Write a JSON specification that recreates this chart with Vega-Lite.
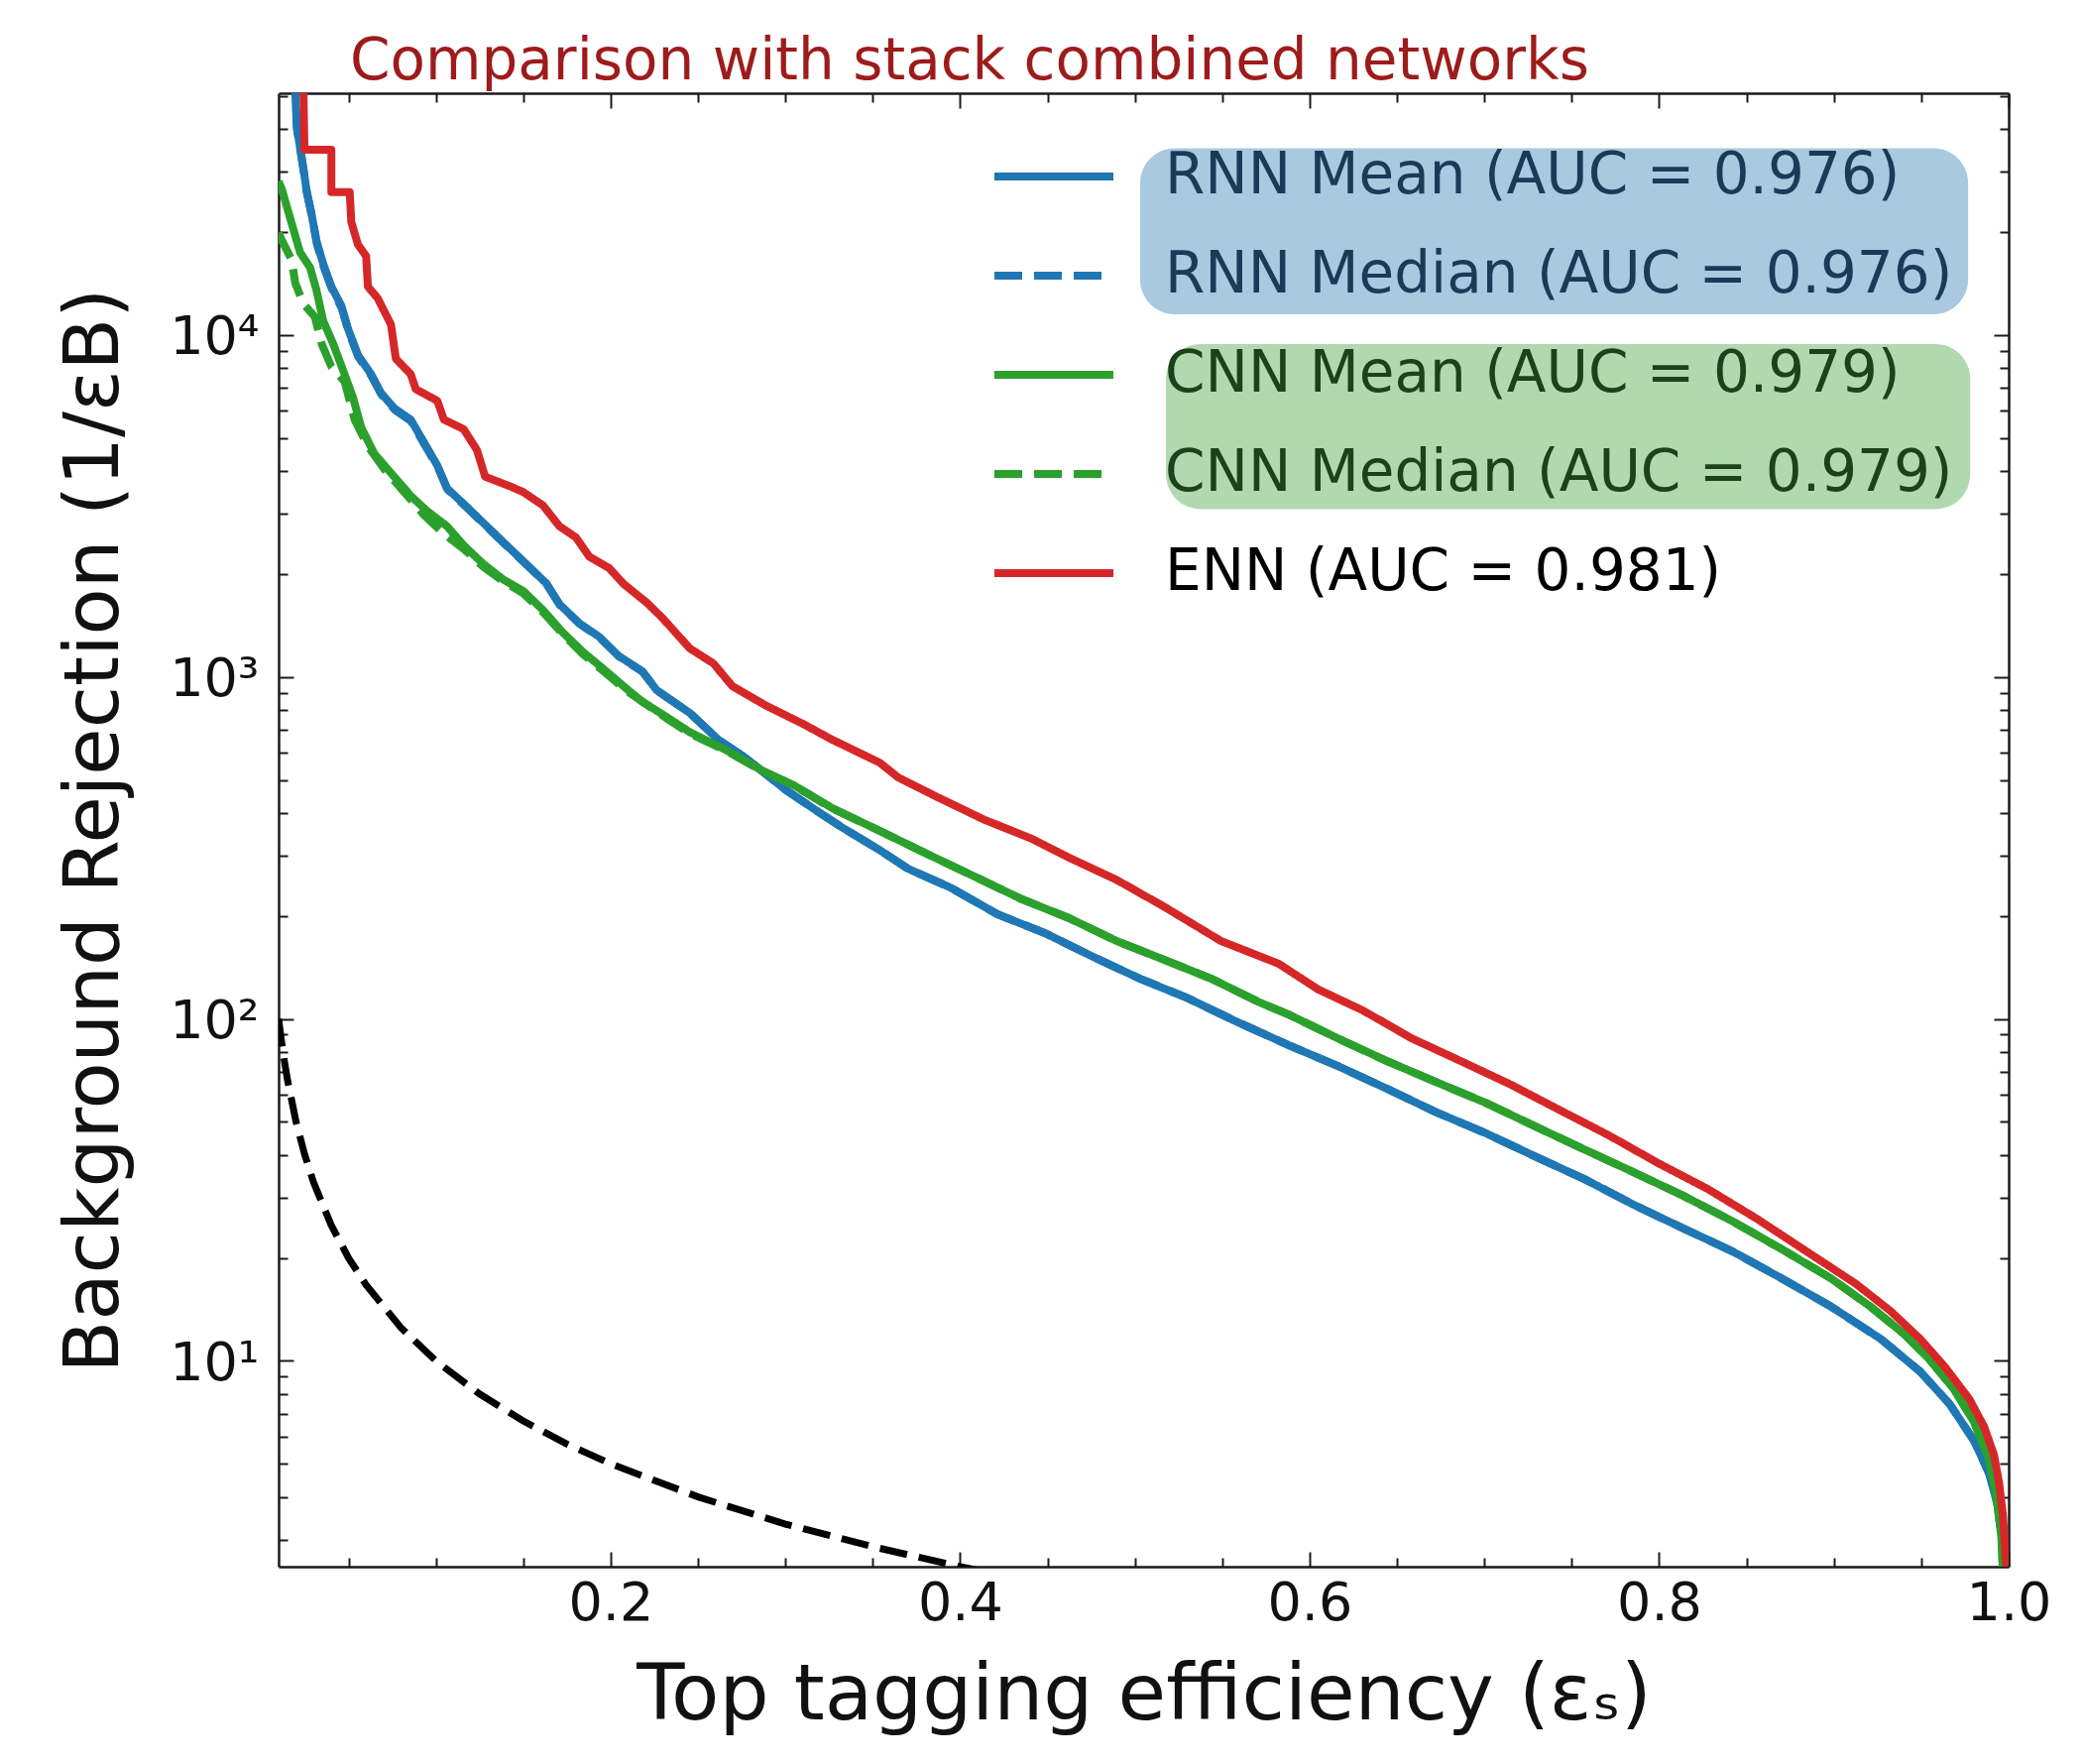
{
  "$schema": "https://vega.github.io/schema/vega-lite/v6.json",
  "width": 1745,
  "height": 1486,
  "autosize": {"type": "none"},
  "padding": {"left": 281, "top": 94, "right": 75, "bottom": 199},
  "background": "white",
  "config": {
    "font": "DejaVu Sans",
    "view": {"stroke": null},
    "axis": {
      "grid": false,
      "domainColor": "#1a1a1a",
      "domainWidth": 2.5,
      "tickColor": "#1a1a1a",
      "tickWidth": 2,
      "labelFont": "DejaVu Sans",
      "labelFontSize": 54,
      "labelColor": "#111111",
      "titleFont": "DejaVu Sans",
      "titleFontSize": 77,
      "titleFontWeight": "normal",
      "titleColor": "#111111",
      "labelFlush": false,
      "labelOverlap": false
    }
  },
  "title": {
    "text": "Comparison with stack combined networks",
    "anchor": "start",
    "frame": "group",
    "dx": 72,
    "offset": -65,
    "baseline": "alphabetic",
    "font": "DejaVu Sans",
    "fontSize": 58,
    "fontWeight": "normal",
    "color": "#9e1b1b"
  },
  "datasets": {
    "highlights": [
      {"group": "RNN", "x": 0.503, "x2": 0.9768, "y": 35200, "y2": 11510},
      {"group": "CNN", "x": 0.5178, "x2": 0.978, "y": 9416, "y2": 3098}
    ],
    "random": [
      {"eff": 0.01, "rej": 100}, {"eff": 0.0125, "rej": 80}, {"eff": 0.015, "rej": 66.7},
      {"eff": 0.02, "rej": 50}, {"eff": 0.025, "rej": 40}, {"eff": 0.03, "rej": 33.3},
      {"eff": 0.04, "rej": 25}, {"eff": 0.05, "rej": 20}, {"eff": 0.06, "rej": 16.7},
      {"eff": 0.08, "rej": 12.5}, {"eff": 0.1, "rej": 10}, {"eff": 0.125, "rej": 8},
      {"eff": 0.15, "rej": 6.67}, {"eff": 0.175, "rej": 5.71}, {"eff": 0.2, "rej": 5},
      {"eff": 0.25, "rej": 4}, {"eff": 0.3, "rej": 3.33}, {"eff": 0.35, "rej": 2.86},
      {"eff": 0.4, "rej": 2.5}, {"eff": 0.45, "rej": 2.22}
    ],
    "roc": [
      {"series": "RNN Mean (AUC = 0.976)", "eff": 0.019, "rej": 60000},
      {"series": "RNN Mean (AUC = 0.976)", "eff": 0.0204, "rej": 40644},
      {"series": "RNN Mean (AUC = 0.976)", "eff": 0.0242, "rej": 30690},
      {"series": "RNN Mean (AUC = 0.976)", "eff": 0.0261, "rej": 26303},
      {"series": "RNN Mean (AUC = 0.976)", "eff": 0.0289, "rej": 22542},
      {"series": "RNN Mean (AUC = 0.976)", "eff": 0.0317, "rej": 18836},
      {"series": "RNN Mean (AUC = 0.976)", "eff": 0.0355, "rej": 16181},
      {"series": "RNN Mean (AUC = 0.976)", "eff": 0.0402, "rej": 13868},
      {"series": "RNN Mean (AUC = 0.976)", "eff": 0.0459, "rej": 12190},
      {"series": "RNN Mean (AUC = 0.976)", "eff": 0.0497, "rej": 10447},
      {"series": "RNN Mean (AUC = 0.976)", "eff": 0.0554, "rej": 8750},
      {"series": "RNN Mean (AUC = 0.976)", "eff": 0.0629, "rej": 7691},
      {"series": "RNN Mean (AUC = 0.976)", "eff": 0.0686, "rej": 6776},
      {"series": "RNN Mean (AUC = 0.976)", "eff": 0.0762, "rej": 6109},
      {"series": "RNN Mean (AUC = 0.976)", "eff": 0.0856, "rej": 5662},
      {"series": "RNN Mean (AUC = 0.976)", "eff": 0.0932, "rej": 4853},
      {"series": "RNN Mean (AUC = 0.976)", "eff": 0.1008, "rej": 4159},
      {"series": "RNN Mean (AUC = 0.976)", "eff": 0.1064, "rej": 3565},
      {"series": "RNN Mean (AUC = 0.976)", "eff": 0.1178, "rej": 3141},
      {"series": "RNN Mean (AUC = 0.976)", "eff": 0.1291, "rej": 2761},
      {"series": "RNN Mean (AUC = 0.976)", "eff": 0.1405, "rej": 2427},
      {"series": "RNN Mean (AUC = 0.976)", "eff": 0.1518, "rej": 2138},
      {"series": "RNN Mean (AUC = 0.976)", "eff": 0.1632, "rej": 1879},
      {"series": "RNN Mean (AUC = 0.976)", "eff": 0.1707, "rej": 1633},
      {"series": "RNN Mean (AUC = 0.976)", "eff": 0.1821, "rej": 1436},
      {"series": "RNN Mean (AUC = 0.976)", "eff": 0.1934, "rej": 1312},
      {"series": "RNN Mean (AUC = 0.976)", "eff": 0.2045, "rej": 1153},
      {"series": "RNN Mean (AUC = 0.976)", "eff": 0.2181, "rej": 1040},
      {"series": "RNN Mean (AUC = 0.976)", "eff": 0.2263, "rej": 916},
      {"series": "RNN Mean (AUC = 0.976)", "eff": 0.2453, "rej": 785},
      {"series": "RNN Mean (AUC = 0.976)", "eff": 0.2616, "rej": 656},
      {"series": "RNN Mean (AUC = 0.976)", "eff": 0.2778, "rej": 577},
      {"series": "RNN Mean (AUC = 0.976)", "eff": 0.2996, "rej": 470},
      {"series": "RNN Mean (AUC = 0.976)", "eff": 0.3186, "rej": 404},
      {"series": "RNN Mean (AUC = 0.976)", "eff": 0.3321, "rej": 364},
      {"series": "RNN Mean (AUC = 0.976)", "eff": 0.3539, "rej": 312},
      {"series": "RNN Mean (AUC = 0.976)", "eff": 0.3702, "rej": 275},
      {"series": "RNN Mean (AUC = 0.976)", "eff": 0.3946, "rej": 242},
      {"series": "RNN Mean (AUC = 0.976)", "eff": 0.4217, "rej": 202},
      {"series": "RNN Mean (AUC = 0.976)", "eff": 0.4488, "rej": 178},
      {"series": "RNN Mean (AUC = 0.976)", "eff": 0.476, "rej": 152},
      {"series": "RNN Mean (AUC = 0.976)", "eff": 0.5031, "rej": 131},
      {"series": "RNN Mean (AUC = 0.976)", "eff": 0.5303, "rej": 115},
      {"series": "RNN Mean (AUC = 0.976)", "eff": 0.5574, "rej": 98.6},
      {"series": "RNN Mean (AUC = 0.976)", "eff": 0.588, "rej": 83.8},
      {"series": "RNN Mean (AUC = 0.976)", "eff": 0.6162, "rej": 72.8},
      {"series": "RNN Mean (AUC = 0.976)", "eff": 0.6445, "rej": 62.4},
      {"series": "RNN Mean (AUC = 0.976)", "eff": 0.6726, "rej": 53.3},
      {"series": "RNN Mean (AUC = 0.976)", "eff": 0.7009, "rej": 46.3},
      {"series": "RNN Mean (AUC = 0.976)", "eff": 0.7291, "rej": 39.6},
      {"series": "RNN Mean (AUC = 0.976)", "eff": 0.7573, "rej": 34.0},
      {"series": "RNN Mean (AUC = 0.976)", "eff": 0.7855, "rej": 28.6},
      {"series": "RNN Mean (AUC = 0.976)", "eff": 0.8138, "rej": 24.4},
      {"series": "RNN Mean (AUC = 0.976)", "eff": 0.842, "rej": 20.9},
      {"series": "RNN Mean (AUC = 0.976)", "eff": 0.8703, "rej": 17.4},
      {"series": "RNN Mean (AUC = 0.976)", "eff": 0.8985, "rej": 14.4},
      {"series": "RNN Mean (AUC = 0.976)", "eff": 0.9267, "rej": 11.6},
      {"series": "RNN Mean (AUC = 0.976)", "eff": 0.9493, "rej": 9.31},
      {"series": "RNN Mean (AUC = 0.976)", "eff": 0.9662, "rej": 7.48},
      {"series": "RNN Mean (AUC = 0.976)", "eff": 0.9803, "rej": 5.83},
      {"series": "RNN Mean (AUC = 0.976)", "eff": 0.9888, "rej": 4.69},
      {"series": "RNN Mean (AUC = 0.976)", "eff": 0.9945, "rej": 3.66},
      {"series": "RNN Mean (AUC = 0.976)", "eff": 0.9973, "rej": 2.84},
      {"series": "RNN Mean (AUC = 0.976)", "eff": 1.0, "rej": 1},

      {"series": "RNN Median (AUC = 0.976)", "eff": 0.0192, "rej": 60000},
      {"series": "RNN Median (AUC = 0.976)", "eff": 0.0206, "rej": 39800},
      {"series": "RNN Median (AUC = 0.976)", "eff": 0.0244, "rej": 30100},
      {"series": "RNN Median (AUC = 0.976)", "eff": 0.0263, "rej": 25900},
      {"series": "RNN Median (AUC = 0.976)", "eff": 0.0291, "rej": 22300},
      {"series": "RNN Median (AUC = 0.976)", "eff": 0.0319, "rej": 18500},
      {"series": "RNN Median (AUC = 0.976)", "eff": 0.0357, "rej": 15900},
      {"series": "RNN Median (AUC = 0.976)", "eff": 0.0404, "rej": 13700},
      {"series": "RNN Median (AUC = 0.976)", "eff": 0.0461, "rej": 12000},
      {"series": "RNN Median (AUC = 0.976)", "eff": 0.0499, "rej": 10300},
      {"series": "RNN Median (AUC = 0.976)", "eff": 0.0556, "rej": 8650},
      {"series": "RNN Median (AUC = 0.976)", "eff": 0.0631, "rej": 7600},
      {"series": "RNN Median (AUC = 0.976)", "eff": 0.0688, "rej": 6700},
      {"series": "RNN Median (AUC = 0.976)", "eff": 0.0764, "rej": 6050},
      {"series": "RNN Median (AUC = 0.976)", "eff": 0.0858, "rej": 5600},
      {"series": "RNN Median (AUC = 0.976)", "eff": 0.0934, "rej": 4800},
      {"series": "RNN Median (AUC = 0.976)", "eff": 0.101, "rej": 4120},
      {"series": "RNN Median (AUC = 0.976)", "eff": 0.1066, "rej": 3540},
      {"series": "RNN Median (AUC = 0.976)", "eff": 0.118, "rej": 3120},
      {"series": "RNN Median (AUC = 0.976)", "eff": 0.1293, "rej": 2745},
      {"series": "RNN Median (AUC = 0.976)", "eff": 0.1407, "rej": 2415},
      {"series": "RNN Median (AUC = 0.976)", "eff": 0.152, "rej": 2128},
      {"series": "RNN Median (AUC = 0.976)", "eff": 0.1634, "rej": 1870},
      {"series": "RNN Median (AUC = 0.976)", "eff": 0.1709, "rej": 1625},
      {"series": "RNN Median (AUC = 0.976)", "eff": 0.1823, "rej": 1430},
      {"series": "RNN Median (AUC = 0.976)", "eff": 0.1936, "rej": 1306},
      {"series": "RNN Median (AUC = 0.976)", "eff": 0.2047, "rej": 1149},
      {"series": "RNN Median (AUC = 0.976)", "eff": 0.2183, "rej": 1036},
      {"series": "RNN Median (AUC = 0.976)", "eff": 0.2265, "rej": 913},
      {"series": "RNN Median (AUC = 0.976)", "eff": 0.2455, "rej": 783},
      {"series": "RNN Median (AUC = 0.976)", "eff": 0.2618, "rej": 655},
      {"series": "RNN Median (AUC = 0.976)", "eff": 0.2778, "rej": 577},
      {"series": "RNN Median (AUC = 0.976)", "eff": 0.2996, "rej": 470},
      {"series": "RNN Median (AUC = 0.976)", "eff": 0.3186, "rej": 404},
      {"series": "RNN Median (AUC = 0.976)", "eff": 0.3321, "rej": 364},
      {"series": "RNN Median (AUC = 0.976)", "eff": 0.3539, "rej": 312},
      {"series": "RNN Median (AUC = 0.976)", "eff": 0.3702, "rej": 275},
      {"series": "RNN Median (AUC = 0.976)", "eff": 0.3946, "rej": 242},
      {"series": "RNN Median (AUC = 0.976)", "eff": 0.4217, "rej": 202},
      {"series": "RNN Median (AUC = 0.976)", "eff": 0.4488, "rej": 178},
      {"series": "RNN Median (AUC = 0.976)", "eff": 0.476, "rej": 152},
      {"series": "RNN Median (AUC = 0.976)", "eff": 0.5031, "rej": 131},
      {"series": "RNN Median (AUC = 0.976)", "eff": 0.5303, "rej": 115},
      {"series": "RNN Median (AUC = 0.976)", "eff": 0.5574, "rej": 98.6},
      {"series": "RNN Median (AUC = 0.976)", "eff": 0.588, "rej": 83.8},
      {"series": "RNN Median (AUC = 0.976)", "eff": 0.6162, "rej": 72.8},
      {"series": "RNN Median (AUC = 0.976)", "eff": 0.6445, "rej": 62.4},
      {"series": "RNN Median (AUC = 0.976)", "eff": 0.6726, "rej": 53.3},
      {"series": "RNN Median (AUC = 0.976)", "eff": 0.7009, "rej": 46.3},
      {"series": "RNN Median (AUC = 0.976)", "eff": 0.7291, "rej": 39.6},
      {"series": "RNN Median (AUC = 0.976)", "eff": 0.7573, "rej": 34.0},
      {"series": "RNN Median (AUC = 0.976)", "eff": 0.7855, "rej": 28.6},
      {"series": "RNN Median (AUC = 0.976)", "eff": 0.8138, "rej": 24.4},
      {"series": "RNN Median (AUC = 0.976)", "eff": 0.842, "rej": 20.9},
      {"series": "RNN Median (AUC = 0.976)", "eff": 0.8703, "rej": 17.4},
      {"series": "RNN Median (AUC = 0.976)", "eff": 0.8985, "rej": 14.4},
      {"series": "RNN Median (AUC = 0.976)", "eff": 0.9267, "rej": 11.6},
      {"series": "RNN Median (AUC = 0.976)", "eff": 0.9493, "rej": 9.31},
      {"series": "RNN Median (AUC = 0.976)", "eff": 0.9662, "rej": 7.48},
      {"series": "RNN Median (AUC = 0.976)", "eff": 0.9803, "rej": 5.83},
      {"series": "RNN Median (AUC = 0.976)", "eff": 0.9888, "rej": 4.69},
      {"series": "RNN Median (AUC = 0.976)", "eff": 0.9945, "rej": 3.66},
      {"series": "RNN Median (AUC = 0.976)", "eff": 0.9973, "rej": 2.84},
      {"series": "RNN Median (AUC = 0.976)", "eff": 1.0, "rej": 1},

      {"series": "CNN Mean (AUC = 0.979)", "eff": 0.01, "rej": 28184},
      {"series": "CNN Mean (AUC = 0.979)", "eff": 0.0119, "rej": 26669},
      {"series": "CNN Mean (AUC = 0.979)", "eff": 0.0147, "rej": 23768},
      {"series": "CNN Mean (AUC = 0.979)", "eff": 0.0185, "rej": 20370},
      {"series": "CNN Mean (AUC = 0.979)", "eff": 0.0223, "rej": 17458},
      {"series": "CNN Mean (AUC = 0.979)", "eff": 0.028, "rej": 15776},
      {"series": "CNN Mean (AUC = 0.979)", "eff": 0.0317, "rej": 13521},
      {"series": "CNN Mean (AUC = 0.979)", "eff": 0.0355, "rej": 11015},
      {"series": "CNN Mean (AUC = 0.979)", "eff": 0.0412, "rej": 9441},
      {"series": "CNN Mean (AUC = 0.979)", "eff": 0.0469, "rej": 7889},
      {"series": "CNN Mean (AUC = 0.979)", "eff": 0.0525, "rej": 6592},
      {"series": "CNN Mean (AUC = 0.979)", "eff": 0.0573, "rej": 5370},
      {"series": "CNN Mean (AUC = 0.979)", "eff": 0.0649, "rej": 4487},
      {"series": "CNN Mean (AUC = 0.979)", "eff": 0.0743, "rej": 3954},
      {"series": "CNN Mean (AUC = 0.979)", "eff": 0.0856, "rej": 3388},
      {"series": "CNN Mean (AUC = 0.979)", "eff": 0.0951, "rej": 3055},
      {"series": "CNN Mean (AUC = 0.979)", "eff": 0.1064, "rej": 2761},
      {"series": "CNN Mean (AUC = 0.979)", "eff": 0.1159, "rej": 2427},
      {"series": "CNN Mean (AUC = 0.979)", "eff": 0.1273, "rej": 2138},
      {"series": "CNN Mean (AUC = 0.979)", "eff": 0.1386, "rej": 1928},
      {"series": "CNN Mean (AUC = 0.979)", "eff": 0.15, "rej": 1786},
      {"series": "CNN Mean (AUC = 0.979)", "eff": 0.1613, "rej": 1570},
      {"series": "CNN Mean (AUC = 0.979)", "eff": 0.1727, "rej": 1349},
      {"series": "CNN Mean (AUC = 0.979)", "eff": 0.184, "rej": 1186},
      {"series": "CNN Mean (AUC = 0.979)", "eff": 0.1972, "rej": 1042},
      {"series": "CNN Mean (AUC = 0.979)", "eff": 0.2086, "rej": 929},
      {"series": "CNN Mean (AUC = 0.979)", "eff": 0.2181, "rej": 847},
      {"series": "CNN Mean (AUC = 0.979)", "eff": 0.2317, "rej": 766},
      {"series": "CNN Mean (AUC = 0.979)", "eff": 0.2453, "rej": 690},
      {"series": "CNN Mean (AUC = 0.979)", "eff": 0.267, "rej": 608},
      {"series": "CNN Mean (AUC = 0.979)", "eff": 0.286, "rej": 535},
      {"series": "CNN Mean (AUC = 0.979)", "eff": 0.305, "rej": 482},
      {"series": "CNN Mean (AUC = 0.979)", "eff": 0.3267, "rej": 414},
      {"series": "CNN Mean (AUC = 0.979)", "eff": 0.3539, "rej": 355},
      {"series": "CNN Mean (AUC = 0.979)", "eff": 0.381, "rej": 304},
      {"series": "CNN Mean (AUC = 0.979)", "eff": 0.4082, "rej": 261},
      {"series": "CNN Mean (AUC = 0.979)", "eff": 0.4353, "rej": 224},
      {"series": "CNN Mean (AUC = 0.979)", "eff": 0.4625, "rej": 197},
      {"series": "CNN Mean (AUC = 0.979)", "eff": 0.4896, "rej": 169},
      {"series": "CNN Mean (AUC = 0.979)", "eff": 0.5167, "rej": 149},
      {"series": "CNN Mean (AUC = 0.979)", "eff": 0.5439, "rej": 131},
      {"series": "CNN Mean (AUC = 0.979)", "eff": 0.571, "rej": 112},
      {"series": "CNN Mean (AUC = 0.979)", "eff": 0.588, "rej": 103},
      {"series": "CNN Mean (AUC = 0.979)", "eff": 0.6162, "rej": 87.7},
      {"series": "CNN Mean (AUC = 0.979)", "eff": 0.6445, "rej": 75.2},
      {"series": "CNN Mean (AUC = 0.979)", "eff": 0.6726, "rej": 65.3},
      {"series": "CNN Mean (AUC = 0.979)", "eff": 0.7009, "rej": 56.8},
      {"series": "CNN Mean (AUC = 0.979)", "eff": 0.7291, "rej": 48.5},
      {"series": "CNN Mean (AUC = 0.979)", "eff": 0.7573, "rej": 41.5},
      {"series": "CNN Mean (AUC = 0.979)", "eff": 0.7855, "rej": 35.6},
      {"series": "CNN Mean (AUC = 0.979)", "eff": 0.8138, "rej": 30.4},
      {"series": "CNN Mean (AUC = 0.979)", "eff": 0.842, "rej": 25.6},
      {"series": "CNN Mean (AUC = 0.979)", "eff": 0.8703, "rej": 21.2},
      {"series": "CNN Mean (AUC = 0.979)", "eff": 0.8985, "rej": 17.4},
      {"series": "CNN Mean (AUC = 0.979)", "eff": 0.921, "rej": 14.4},
      {"series": "CNN Mean (AUC = 0.979)", "eff": 0.9408, "rej": 11.9},
      {"series": "CNN Mean (AUC = 0.979)", "eff": 0.9549, "rej": 10.07},
      {"series": "CNN Mean (AUC = 0.979)", "eff": 0.969, "rej": 8.22},
      {"series": "CNN Mean (AUC = 0.979)", "eff": 0.9803, "rej": 6.61},
      {"series": "CNN Mean (AUC = 0.979)", "eff": 0.9888, "rej": 5.15},
      {"series": "CNN Mean (AUC = 0.979)", "eff": 0.993, "rej": 4.02},
      {"series": "CNN Mean (AUC = 0.979)", "eff": 0.9959, "rej": 3.03},
      {"series": "CNN Mean (AUC = 0.979)", "eff": 1.0, "rej": 1},

      {"series": "CNN Median (AUC = 0.979)", "eff": 0.01, "rej": 19953},
      {"series": "CNN Median (AUC = 0.979)", "eff": 0.0115, "rej": 19099},
      {"series": "CNN Median (AUC = 0.979)", "eff": 0.0175, "rej": 16596},
      {"series": "CNN Median (AUC = 0.979)", "eff": 0.0195, "rej": 14223},
      {"series": "CNN Median (AUC = 0.979)", "eff": 0.0242, "rej": 12359},
      {"series": "CNN Median (AUC = 0.979)", "eff": 0.0308, "rej": 11298},
      {"series": "CNN Median (AUC = 0.979)", "eff": 0.0346, "rej": 9441},
      {"series": "CNN Median (AUC = 0.979)", "eff": 0.0402, "rej": 8091},
      {"series": "CNN Median (AUC = 0.979)", "eff": 0.0478, "rej": 7311},
      {"series": "CNN Median (AUC = 0.979)", "eff": 0.0535, "rej": 5662},
      {"series": "CNN Median (AUC = 0.979)", "eff": 0.0611, "rej": 4732},
      {"series": "CNN Median (AUC = 0.979)", "eff": 0.0705, "rej": 4055},
      {"series": "CNN Median (AUC = 0.979)", "eff": 0.0819, "rej": 3475},
      {"series": "CNN Median (AUC = 0.979)", "eff": 0.0932, "rej": 2979},
      {"series": "CNN Median (AUC = 0.979)", "eff": 0.1046, "rej": 2624},
      {"series": "CNN Median (AUC = 0.979)", "eff": 0.1159, "rej": 2371},
      {"series": "CNN Median (AUC = 0.979)", "eff": 0.1273, "rej": 2099},
      {"series": "CNN Median (AUC = 0.979)", "eff": 0.1386, "rej": 1905},
      {"series": "CNN Median (AUC = 0.979)", "eff": 0.15, "rej": 1758},
      {"series": "CNN Median (AUC = 0.979)", "eff": 0.1613, "rej": 1549},
      {"series": "CNN Median (AUC = 0.979)", "eff": 0.1727, "rej": 1334},
      {"series": "CNN Median (AUC = 0.979)", "eff": 0.184, "rej": 1169},
      {"series": "CNN Median (AUC = 0.979)", "eff": 0.1972, "rej": 1028},
      {"series": "CNN Median (AUC = 0.979)", "eff": 0.2086, "rej": 916},
      {"series": "CNN Median (AUC = 0.979)", "eff": 0.2317, "rej": 759},
      {"series": "CNN Median (AUC = 0.979)", "eff": 0.2453, "rej": 684},
      {"series": "CNN Median (AUC = 0.979)", "eff": 0.267, "rej": 605},
      {"series": "CNN Median (AUC = 0.979)", "eff": 0.286, "rej": 533},
      {"series": "CNN Median (AUC = 0.979)", "eff": 0.305, "rej": 481},
      {"series": "CNN Median (AUC = 0.979)", "eff": 0.3267, "rej": 413},
      {"series": "CNN Median (AUC = 0.979)", "eff": 0.3539, "rej": 355},
      {"series": "CNN Median (AUC = 0.979)", "eff": 0.381, "rej": 304},
      {"series": "CNN Median (AUC = 0.979)", "eff": 0.4082, "rej": 261},
      {"series": "CNN Median (AUC = 0.979)", "eff": 0.4353, "rej": 224},
      {"series": "CNN Median (AUC = 0.979)", "eff": 0.4625, "rej": 197},
      {"series": "CNN Median (AUC = 0.979)", "eff": 0.4896, "rej": 169},
      {"series": "CNN Median (AUC = 0.979)", "eff": 0.5167, "rej": 149},
      {"series": "CNN Median (AUC = 0.979)", "eff": 0.5439, "rej": 131},
      {"series": "CNN Median (AUC = 0.979)", "eff": 0.571, "rej": 112},
      {"series": "CNN Median (AUC = 0.979)", "eff": 0.588, "rej": 103},
      {"series": "CNN Median (AUC = 0.979)", "eff": 0.6162, "rej": 87.7},
      {"series": "CNN Median (AUC = 0.979)", "eff": 0.6445, "rej": 75.2},
      {"series": "CNN Median (AUC = 0.979)", "eff": 0.6726, "rej": 65.3},
      {"series": "CNN Median (AUC = 0.979)", "eff": 0.7009, "rej": 56.8},
      {"series": "CNN Median (AUC = 0.979)", "eff": 0.7291, "rej": 48.5},
      {"series": "CNN Median (AUC = 0.979)", "eff": 0.7573, "rej": 41.5},
      {"series": "CNN Median (AUC = 0.979)", "eff": 0.7855, "rej": 35.6},
      {"series": "CNN Median (AUC = 0.979)", "eff": 0.8138, "rej": 30.4},
      {"series": "CNN Median (AUC = 0.979)", "eff": 0.842, "rej": 25.6},
      {"series": "CNN Median (AUC = 0.979)", "eff": 0.8703, "rej": 21.2},
      {"series": "CNN Median (AUC = 0.979)", "eff": 0.8985, "rej": 17.4},
      {"series": "CNN Median (AUC = 0.979)", "eff": 0.921, "rej": 14.4},
      {"series": "CNN Median (AUC = 0.979)", "eff": 0.9408, "rej": 11.9},
      {"series": "CNN Median (AUC = 0.979)", "eff": 0.9549, "rej": 10.07},
      {"series": "CNN Median (AUC = 0.979)", "eff": 0.969, "rej": 8.22},
      {"series": "CNN Median (AUC = 0.979)", "eff": 0.9803, "rej": 6.61},
      {"series": "CNN Median (AUC = 0.979)", "eff": 0.9888, "rej": 5.15},
      {"series": "CNN Median (AUC = 0.979)", "eff": 0.993, "rej": 4.02},
      {"series": "CNN Median (AUC = 0.979)", "eff": 0.9959, "rej": 3.03},
      {"series": "CNN Median (AUC = 0.979)", "eff": 1.0, "rej": 1},

      {"series": "ENN (AUC = 0.981)", "eff": 0.024, "rej": 60256},
      {"series": "ENN (AUC = 0.981)", "eff": 0.0248, "rej": 34834},
      {"series": "ENN (AUC = 0.981)", "eff": 0.0402, "rej": 34834},
      {"series": "ENN (AUC = 0.981)", "eff": 0.0402, "rej": 26182},
      {"series": "ENN (AUC = 0.981)", "eff": 0.0507, "rej": 26182},
      {"series": "ENN (AUC = 0.981)", "eff": 0.0516, "rej": 21429},
      {"series": "ENN (AUC = 0.981)", "eff": 0.0554, "rej": 18408},
      {"series": "ENN (AUC = 0.981)", "eff": 0.0601, "rej": 17022},
      {"series": "ENN (AUC = 0.981)", "eff": 0.0611, "rej": 13868},
      {"series": "ENN (AUC = 0.981)", "eff": 0.0667, "rej": 12823},
      {"series": "ENN (AUC = 0.981)", "eff": 0.0743, "rej": 10740},
      {"series": "ENN (AUC = 0.981)", "eff": 0.0771, "rej": 8531},
      {"series": "ENN (AUC = 0.981)", "eff": 0.0856, "rej": 7691},
      {"series": "ENN (AUC = 0.981)", "eff": 0.0885, "rej": 6950},
      {"series": "ENN (AUC = 0.981)", "eff": 0.1008, "rej": 6427},
      {"series": "ENN (AUC = 0.981)", "eff": 0.1046, "rej": 5662},
      {"series": "ENN (AUC = 0.981)", "eff": 0.1159, "rej": 5309},
      {"series": "ENN (AUC = 0.981)", "eff": 0.1235, "rej": 4613},
      {"series": "ENN (AUC = 0.981)", "eff": 0.1282, "rej": 3855},
      {"series": "ENN (AUC = 0.981)", "eff": 0.1424, "rej": 3614},
      {"series": "ENN (AUC = 0.981)", "eff": 0.15, "rej": 3475},
      {"series": "ENN (AUC = 0.981)", "eff": 0.1613, "rej": 3177},
      {"series": "ENN (AUC = 0.981)", "eff": 0.1707, "rej": 2761},
      {"series": "ENN (AUC = 0.981)", "eff": 0.1802, "rej": 2559},
      {"series": "ENN (AUC = 0.981)", "eff": 0.1878, "rej": 2249},
      {"series": "ENN (AUC = 0.981)", "eff": 0.1991, "rej": 2084},
      {"series": "ENN (AUC = 0.981)", "eff": 0.2073, "rej": 1875},
      {"series": "ENN (AUC = 0.981)", "eff": 0.2208, "rej": 1648},
      {"series": "ENN (AUC = 0.981)", "eff": 0.2294, "rej": 1493},
      {"series": "ENN (AUC = 0.981)", "eff": 0.2453, "rej": 1213},
      {"series": "ENN (AUC = 0.981)", "eff": 0.2588, "rej": 1096},
      {"series": "ENN (AUC = 0.981)", "eff": 0.2697, "rej": 940},
      {"series": "ENN (AUC = 0.981)", "eff": 0.2887, "rej": 826},
      {"series": "ENN (AUC = 0.981)", "eff": 0.3104, "rej": 728},
      {"series": "ENN (AUC = 0.981)", "eff": 0.3267, "rej": 656},
      {"series": "ENN (AUC = 0.981)", "eff": 0.3539, "rej": 562},
      {"series": "ENN (AUC = 0.981)", "eff": 0.3647, "rej": 508},
      {"series": "ENN (AUC = 0.981)", "eff": 0.3864, "rej": 447},
      {"series": "ENN (AUC = 0.981)", "eff": 0.4136, "rej": 383},
      {"series": "ENN (AUC = 0.981)", "eff": 0.4407, "rej": 337},
      {"series": "ENN (AUC = 0.981)", "eff": 0.4625, "rej": 296},
      {"series": "ENN (AUC = 0.981)", "eff": 0.4896, "rej": 255},
      {"series": "ENN (AUC = 0.981)", "eff": 0.5167, "rej": 213},
      {"series": "ENN (AUC = 0.981)", "eff": 0.5493, "rej": 169},
      {"series": "ENN (AUC = 0.981)", "eff": 0.5823, "rej": 145},
      {"series": "ENN (AUC = 0.981)", "eff": 0.6049, "rej": 122},
      {"series": "ENN (AUC = 0.981)", "eff": 0.6303, "rej": 106},
      {"series": "ENN (AUC = 0.981)", "eff": 0.6585, "rej": 87.7},
      {"series": "ENN (AUC = 0.981)", "eff": 0.6867, "rej": 75.2},
      {"series": "ENN (AUC = 0.981)", "eff": 0.715, "rej": 64.3},
      {"series": "ENN (AUC = 0.981)", "eff": 0.7432, "rej": 54.1},
      {"series": "ENN (AUC = 0.981)", "eff": 0.7714, "rej": 45.6},
      {"series": "ENN (AUC = 0.981)", "eff": 0.7997, "rej": 37.8},
      {"series": "ENN (AUC = 0.981)", "eff": 0.8279, "rej": 31.8},
      {"series": "ENN (AUC = 0.981)", "eff": 0.8561, "rej": 26.0},
      {"series": "ENN (AUC = 0.981)", "eff": 0.8843, "rej": 20.9},
      {"series": "ENN (AUC = 0.981)", "eff": 0.9126, "rej": 16.8},
      {"series": "ENN (AUC = 0.981)", "eff": 0.9323, "rej": 14.0},
      {"series": "ENN (AUC = 0.981)", "eff": 0.9493, "rej": 11.6},
      {"series": "ENN (AUC = 0.981)", "eff": 0.9634, "rej": 9.62},
      {"series": "ENN (AUC = 0.981)", "eff": 0.9775, "rej": 7.73},
      {"series": "ENN (AUC = 0.981)", "eff": 0.986, "rej": 6.41},
      {"series": "ENN (AUC = 0.981)", "eff": 0.9916, "rej": 5.31},
      {"series": "ENN (AUC = 0.981)", "eff": 0.9945, "rej": 4.41},
      {"series": "ENN (AUC = 0.981)", "eff": 0.9967, "rej": 3.55},
      {"series": "ENN (AUC = 0.981)", "eff": 0.9987, "rej": 2.45},
      {"series": "ENN (AUC = 0.981)", "eff": 1.0, "rej": 1}
    ]
  },
  "layer": [
    {
      "data": {"name": "highlights"},
      "mark": {"type": "rect", "cornerRadius": 35},
      "encoding": {
        "x": {"field": "x", "type": "quantitative", "scale": {"domain": [0.01, 1.0], "nice": false, "zero": false}, "axis": null},
        "x2": {"field": "x2"},
        "y": {"field": "y", "type": "quantitative", "scale": {"type": "log", "domain": [2.5, 51000], "nice": false}, "axis": null},
        "y2": {"field": "y2"},
        "fill": {"field": "group", "type": "nominal", "scale": {"domain": ["RNN", "CNN"], "range": ["#a9c9e1", "#b0d9b0"]}, "legend": null}
      }
    },
    {
      "data": {"name": "roc"},
      "mark": {"type": "line", "strokeWidth": 8, "clip": true, "strokeCap": "butt", "strokeJoin": "round"},
      "encoding": {
        "x": {
          "field": "eff", "type": "quantitative",
          "scale": {"domain": [0.01, 1.0], "nice": false, "zero": false},
          "axis": {
            "orient": "bottom",
            "values": [0.05, 0.1, 0.15, 0.2, 0.25, 0.3, 0.35, 0.4, 0.45, 0.5, 0.55, 0.6, 0.65, 0.7, 0.75, 0.8, 0.85, 0.9, 0.95, 1.0],
            "labelExpr": "abs(datum.value*5 - round(datum.value*5)) < 0.001 ? format(datum.value, '.1f') : ''",
            "tickSize": {"condition": {"test": "abs(datum.value*5 - round(datum.value*5)) < 0.001", "value": -15}, "value": -9},
            "labelPadding": 25,
            "title": "Top tagging efficiency (εₛ)",
            "titleFontSize": 79,
            "titleY": 153,
            "titleBaseline": "alphabetic"
          }
        },
        "y": {
          "field": "rej", "type": "quantitative",
          "scale": {"type": "log", "domain": [2.5, 51000], "nice": false},
          "axis": {
            "orient": "left",
            "values": [3, 4, 5, 6, 7, 8, 9, 10, 20, 30, 40, 50, 60, 70, 80, 90, 100, 200, 300, 400, 500, 600, 700, 800, 900, 1000, 2000, 3000, 4000, 5000, 6000, 7000, 8000, 9000, 10000, 20000, 30000, 40000, 50000],
            "labelExpr": "datum.value == 10 ? '10¹' : datum.value == 100 ? '10²' : datum.value == 1000 ? '10³' : datum.value == 10000 ? '10⁴' : ''",
            "tickSize": {"condition": {"test": "datum.value == 10 || datum.value == 100 || datum.value == 1000 || datum.value == 10000", "value": -15}, "value": -9},
            "labelPadding": 35,
            "labelOffset": 3,
            "title": "Background Rejection (1/εB)",
            "titleAngle": 270,
            "titleX": -163,
            "titleBaseline": "alphabetic"
          }
        },
        "color": {
          "field": "series", "type": "nominal",
          "scale": {
            "domain": ["RNN Mean (AUC = 0.976)", "RNN Median (AUC = 0.976)", "CNN Mean (AUC = 0.979)", "CNN Median (AUC = 0.979)", "ENN (AUC = 0.981)"],
            "range": ["#1f77b4", "#1f77b4", "#2ca02c", "#2ca02c", "#d62728"]
          },
          "legend": {
            "orient": "none", "legendX": 748, "legendY": 50, "direction": "vertical",
            "title": null, "padding": 0,
            "symbolType": "M-2,0H2", "symbolSize": 3600, "symbolStrokeWidth": 8,
            "labelFont": "DejaVu Sans", "labelFontSize": 58, "labelOffset": 78, "labelLimit": 2000,
            "rowPadding": 37,
            "labelColor": {"expr": "indexof(datum.label, 'RNN') == 0 ? '#1b3a57' : indexof(datum.label, 'CNN') == 0 ? '#1c421c' : '#000000'"}
          }
        },
        "strokeDash": {
          "field": "series", "type": "nominal",
          "scale": {
            "domain": ["RNN Mean (AUC = 0.976)", "RNN Median (AUC = 0.976)", "CNN Mean (AUC = 0.979)", "CNN Median (AUC = 0.979)", "ENN (AUC = 0.981)"],
            "range": [[1, 0], [28, 12], [1, 0], [28, 12], [1, 0]]
          },
          "legend": {
            "orient": "none", "legendX": 748, "legendY": 50, "direction": "vertical",
            "title": null, "padding": 0,
            "symbolType": "M-2,0H2", "symbolSize": 3600, "symbolStrokeWidth": 8,
            "labelFont": "DejaVu Sans", "labelFontSize": 58, "labelOffset": 78, "labelLimit": 2000,
            "rowPadding": 37,
            "labelColor": {"expr": "indexof(datum.label, 'RNN') == 0 ? '#1b3a57' : indexof(datum.label, 'CNN') == 0 ? '#1c421c' : '#000000'"}
          }
        },
        "order": {"value": null}
      }
    },
    {
      "data": {"name": "random"},
      "mark": {"type": "line", "color": "black", "strokeDash": [28, 12], "strokeWidth": 7, "clip": true},
      "encoding": {
        "x": {
          "field": "eff", "type": "quantitative",
          "scale": {"domain": [0.01, 1.0], "nice": false, "zero": false},
          "axis": {
            "orient": "top",
            "values": [0.05, 0.1, 0.15, 0.2, 0.25, 0.3, 0.35, 0.4, 0.45, 0.5, 0.55, 0.6, 0.65, 0.7, 0.75, 0.8, 0.85, 0.9, 0.95, 1.0],
            "labels": false,
            "tickSize": {"condition": {"test": "abs(datum.value*5 - round(datum.value*5)) < 0.001", "value": -15}, "value": -9},
            "title": null
          }
        },
        "y": {
          "field": "rej", "type": "quantitative",
          "scale": {"type": "log", "domain": [2.5, 51000], "nice": false},
          "axis": {
            "orient": "right",
            "values": [3, 4, 5, 6, 7, 8, 9, 10, 20, 30, 40, 50, 60, 70, 80, 90, 100, 200, 300, 400, 500, 600, 700, 800, 900, 1000, 2000, 3000, 4000, 5000, 6000, 7000, 8000, 9000, 10000, 20000, 30000, 40000, 50000],
            "labels": false,
            "tickSize": {"condition": {"test": "datum.value == 10 || datum.value == 100 || datum.value == 1000 || datum.value == 10000", "value": -15}, "value": -9},
            "title": null
          }
        }
      }
    }
  ],
  "resolve": {"axis": {"x": "independent", "y": "independent"}}
}
